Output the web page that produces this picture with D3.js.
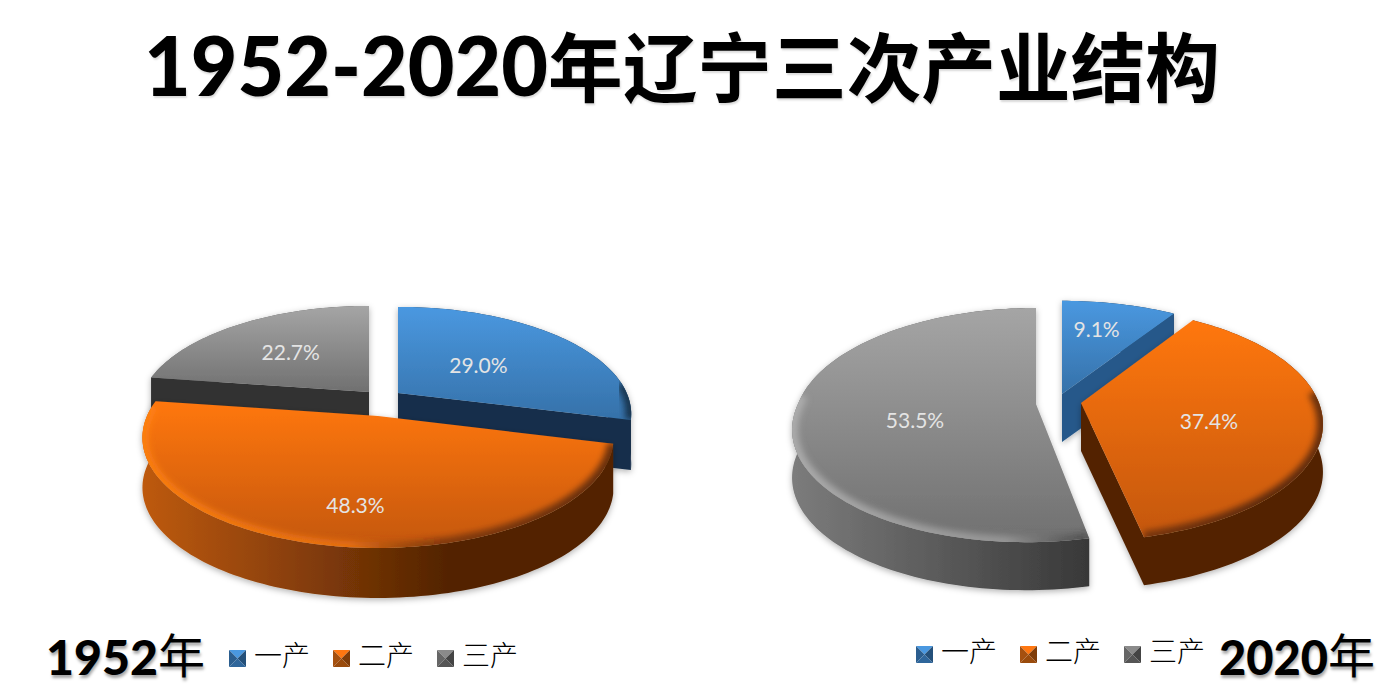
<!DOCTYPE html>
<html><head><meta charset="utf-8">
<script src="https://cdn.jsdelivr.net/npm/d3@7/dist/d3.min.js"></script>
<style>html,body{margin:0;padding:0;background:#fff;overflow:hidden}svg{display:block}</style>
</head><body><svg id="c" width="1388" height="695"></svg>
<script>
const titleDigits = "1952-2020";
const titleCJK = "年辽宁三次产业结构";
const categories = ["一产", "二产", "三产"];
const values1952 = [29.0, 48.3, 22.7];
const values2020 = [9.1, 37.4, 53.5];
const yearLabels = ["1952", "2020"];
const yearSuffix = "年";

const baseColors = ["#4A98E0", "#FF7711", "#A5A5A5"];
const faceEnd = ["#3571A9", "#C4570D", "#707070"];
const wallStart = ["#2d6a9f", "#BE5A10", "#7c7c7c"];
const wallEnd = ["#163049", "#522302", "#383838"];
const swatchTop = ["#4A98E0", "#FF7711", "#8A8A8A"];
const swatchLeft = ["#2B5E8F", "#A5500F", "#666666"];
const swatchRight = ["#24507A", "#7F3C08", "#444444"];
const swatchBottom = ["#2F669B", "#9A4B0C", "#555555"];

const layouts = [
  { values: values1952, id: "a", R: 231, ky: 103, p: 0.196, depth: 50, gradLeft: 142, gradRight: 450,
    apex: [[398, 393], [378, 416], [369, 392]], scaleR: [0.99, 1, 0.98], scaleY: [1, 1.03, 1], lean: [0, 0, 0],
    labelR: [0.47, 0.73, 0.55], nudge: [[0, 0], [16, 0], [-3, -1]],
    cut: ["#162f4b", "#522302", "#313131"] },
  { values: values2020, id: "b", R: 238, ky: 110, p: 0.18, depth: 48, gradLeft: 791, gradRight: 1090,
    apex: [[1062, 394], [1081, 403], [1036, 404]], scaleR: [1, 1, 1], scaleY: [1, 1.03, 1.03], lean: [0, 0, 10],
    labelR: [0.62, 0.52, 0.5], nudge: [[-3, -6], [4, 7], [-1, 9]],
    cut: ["#27598a", "#532402", "#555555"] }
];

const svg = d3.select("#c");
const defs = svg.append("defs");

const blur = defs.append("filter").attr("id", "blur").attr("x", "-20%").attr("y", "-20%").attr("width", "140%").attr("height", "140%");
blur.append("feGaussianBlur").attr("stdDeviation", 3);
const shadow = defs.append("filter").attr("id", "shadow").attr("x", "-10%").attr("y", "-10%").attr("width", "120%").attr("height", "125%");
shadow.append("feDropShadow").attr("dx", 0).attr("dy", 2).attr("stdDeviation", 3).attr("flood-color", "#000").attr("flood-opacity", 0.3);

baseColors.forEach((c, i) => {
  const g = defs.append("linearGradient").attr("id", "face" + i).attr("x1", 0).attr("y1", 0).attr("x2", 0).attr("y2", 1);
  g.append("stop").attr("offset", 0).attr("stop-color", c);
  g.append("stop").attr("offset", 1).attr("stop-color", faceEnd[i]);
});

const line = d3.line().x(d => d[0]).y(d => d[1]);
const pieGen = d3.pie().sort(null).value(d => d);

function drawPie(cfg) {
  const arcs = pieGen(cfg.values);
  const project = (theta, r, i) => {
    const X = Math.sin(theta) * r, Y = Math.cos(theta) * r, w = 1 + cfg.p * Y;
    return [cfg.apex[i][0] + cfg.R * cfg.scaleR[i] * X / w + cfg.lean[i] * Math.min(0, Y),
            cfg.apex[i][1] - cfg.ky * cfg.scaleY[i] * Y / w];
  };

  baseColors.forEach((c, i) => {
    const g = defs.append("linearGradient").attr("id", `wall${cfg.id}${i}`).attr("gradientUnits", "userSpaceOnUse")
      .attr("x1", cfg.gradLeft).attr("x2", cfg.gradRight).attr("y1", 0).attr("y2", 0);
    g.append("stop").attr("offset", 0).attr("stop-color", wallStart[i]);
    g.append("stop").attr("offset", 1).attr("stop-color", wallEnd[i]);
    const b = defs.append("linearGradient").attr("id", `rim${cfg.id}${i}`).attr("gradientUnits", "userSpaceOnUse")
      .attr("x1", cfg.gradLeft).attr("x2", cfg.gradLeft + cfg.R * 2).attr("y1", 0).attr("y2", 0);
    const light = d3.color(c).brighter(0.25).formatHex();
    b.append("stop").attr("offset", 0).attr("stop-color", light).attr("stop-opacity", 0.8);
    b.append("stop").attr("offset", 0.45).attr("stop-color", light).attr("stop-opacity", 0.55);
    b.append("stop").attr("offset", 0.66).attr("stop-color", "#000").attr("stop-opacity", 0.35);
    b.append("stop").attr("offset", 1).attr("stop-color", "#000").attr("stop-opacity", 0.55);
  });

  const items = arcs.map((a, i) => {
    const n = Math.max(8, Math.ceil((a.endAngle - a.startAngle) * 40));
    const thetas = d3.range(n + 1).map(k => a.startAngle + (a.endAngle - a.startAngle) * k / n);
    const mid = (a.startAngle + a.endAngle) / 2;
    return { a, i, thetas, mid, midY: Math.cos(mid) };
  }).sort((u, v) => v.midY - u.midY);

  const root = svg.append("g");
  items.forEach(s => {
    const { a, i, thetas, mid } = s;
    const [ax, ay] = cfg.apex[i];
    const g = root.append("g").attr("filter", "url(#shadow)");
    const outer = thetas.map(t => project(t, 1, i));
    const down = p => [p[0], p[1] + cfg.depth];

    // outer wall
    g.append("path").attr("d", line(outer.concat(outer.map(down).reverse())) + "Z")
      .attr("fill", `url(#wall${cfg.id}${i})`);

    // cut faces that look towards the viewer
    const inside = project(mid, 0.6, i);
    [a.startAngle, a.endAngle].forEach(t => {
      const e = project(t, 1, i);
      const dx = e[0] - ax;
      if (Math.abs(dx) < 1) return;
      const yOnEdge = ay + (e[1] - ay) * (inside[0] - ax) / dx;
      if (inside[1] < yOnEdge) {
        const apexPt = [ax, ay];
        g.append("path").attr("d", line([apexPt, e, down(e), down(apexPt)]) + "Z").attr("fill", cfg.cut[i]);
      }
    });

    // top face
    const topD = line([[ax, ay]].concat(outer)) + "Z";
    const clipId = `clip${cfg.id}${i}`;
    defs.append("clipPath").attr("id", clipId).append("path").attr("d", topD);
    g.append("path").attr("d", topD).attr("fill", `url(#face${i})`);

    // bevelled rim along the front of the outer edge
    const rimPts = thetas.filter(t => Math.cos(t) < 0.1).map(t => project(t, 1, i));
    if (rimPts.length > 1) {
      g.append("g").attr("clip-path", `url(#${clipId})`).append("path")
        .attr("d", line(rimPts)).attr("fill", "none")
        .attr("stroke", `url(#rim${cfg.id}${i})`).attr("stroke-width", 12).attr("filter", "url(#blur)");
    }
  });

  // value labels on top of everything
  arcs.forEach((a, i) => {
    const mid = (a.startAngle + a.endAngle) / 2;
    const p = project(mid, cfg.labelR[i], i);
    root.append("text").attr("x", p[0] + cfg.nudge[i][0]).attr("y", p[1] + cfg.nudge[i][1])
      .attr("text-anchor", "middle").attr("dominant-baseline", "central")
      .attr("font-family", "Lato, 'Open Sans', sans-serif").attr("font-size", 21)
      .attr("fill", "#E4E4E4").text(d3.format(".1f")(a.value) + "%");
  });
}
layouts.forEach(drawPie);

// title
const title = svg.append("text").attr("x", 144).attr("y", 96)
  .style("text-shadow", "1px 2px 2px rgba(0,0,0,.15)").attr("fill", "#000");
title.append("tspan").attr("font-family", "Lato, sans-serif").attr("font-weight", 900).attr("font-size", 82)
  .attr("textLength", 404).attr("lengthAdjust", "spacingAndGlyphs").text(titleDigits);
title.append("tspan").attr("font-family", "'Noto Sans CJK SC', sans-serif").attr("font-weight", 700).attr("font-size", 75)
  .attr("textLength", 672).attr("lengthAdjust", "spacingAndGlyphs").text(titleCJK);

// year captions
function yearCaption(x, y, year, lenDigits) {
  const t = svg.append("text").attr("x", x).attr("y", y).attr("fill", "#000")
    .style("text-shadow", "1px 3px 3px rgba(0,0,0,.35)");
  t.append("tspan").attr("font-family", "Lato, sans-serif").attr("font-weight", 900).attr("font-size", 47)
    .attr("textLength", lenDigits).attr("lengthAdjust", "spacingAndGlyphs").text(year);
  t.append("tspan").attr("font-family", "'Noto Sans CJK SC', sans-serif").attr("font-weight", 400).attr("font-size", 47)
    .attr("dy", -2).text(yearSuffix);
}
yearCaption(46, 675, yearLabels[0], 112);
yearCaption(1219, 675, yearLabels[1], 109);

// legends
const legendX = d3.scaleLinear().domain([0, 1]).range([0, 104]);
function legend(x0, y0) {
  categories.forEach((name, i) => {
    const x = x0 + legendX(i), s = 17;
    const g = svg.append("g").attr("transform", `translate(${x},${y0})`);
    const mid = [s / 2, s / 2];
    const shades = [swatchTop[i], swatchLeft[i], swatchRight[i], swatchBottom[i]];
    [[[0, 0], [s, 0]], [[0, 0], [0, s]], [[s, 0], [s, s]], [[0, s], [s, s]]].forEach((e, k) => {
      g.append("path").attr("d", line([e[0], e[1], mid]) + "Z").attr("fill", shades[k]);
    });
    svg.append("text").attr("x", x + s + 8).attr("y", y0 + 16)
      .attr("font-family", "'Noto Sans CJK SC', sans-serif").attr("font-weight", 300).attr("font-size", 28)
      .attr("fill", "#000").text(name);
  });
}
legend(229, 650);
legend(916, 646);
</script></body></html>
